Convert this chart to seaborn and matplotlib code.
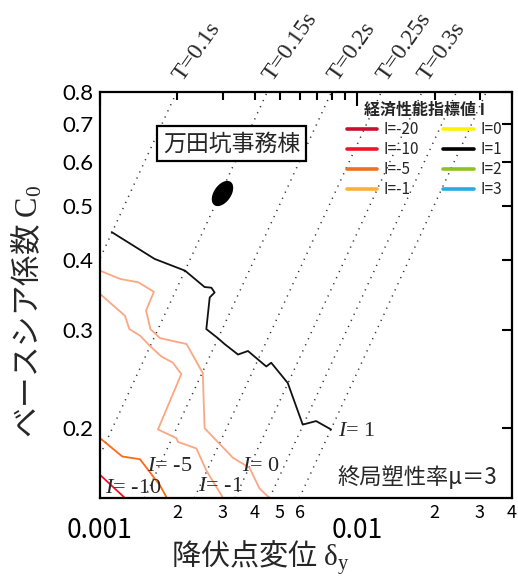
import numpy as np
import pandas as pd
import matplotlib
matplotlib.use("Agg")
import matplotlib.pyplot as plt
import seaborn as sns
from matplotlib.lines import Line2D
from matplotlib.path import Path

# --- iso-lines of the economic performance index I (yield displacement [m], base shear coeff.) ---
i1_dy = [0.00111, 0.00163, 0.00214, 0.00255, 0.00271, 0.00279, 0.00267, 0.00259, 0.00287,
         0.00305, 0.00344, 0.00376, 0.00443, 0.00463, 0.00537, 0.00614, 0.00692, 0.00791]
i1_c0 = [0.449, 0.402, 0.383, 0.358, 0.357, 0.350, 0.343, 0.301, 0.290,
         0.283, 0.271, 0.275, 0.258, 0.262, 0.241, 0.203, 0.206, 0.199]

i0_dy = [0.00100, 0.00120, 0.00141, 0.00162, 0.00151, 0.00157, 0.00171, 0.00217, 0.00251,
         0.00255, 0.00329, 0.00381, 0.00417, 0.00456]
i0_c0 = [0.383, 0.370, 0.365, 0.351, 0.325, 0.301, 0.290, 0.283, 0.251,
         0.200, 0.177, 0.170, 0.156, 0.150]

im1_dy = [0.00100, 0.00125, 0.00130, 0.00143, 0.00156, 0.00173, 0.00192, 0.00207, 0.00168,
          0.00198, 0.00201, 0.00237, 0.00259, 0.00301]
im1_c0 = [0.348, 0.318, 0.301, 0.293, 0.281, 0.269, 0.262, 0.250, 0.199,
          0.192, 0.189, 0.184, 0.168, 0.150]

im5_dy = [0.00100, 0.00122, 0.00143, 0.00156, 0.00171, 0.00182]
im5_c0 = [0.192, 0.178, 0.176, 0.167, 0.158, 0.150]

im10_dy = [0.00100, 0.00125]
im10_c0 = [0.165, 0.150]

# building point: 万田坑事務棟
bldg_dy = [0.00298]
bldg_c0 = [0.528]

# equal-period guide lines  δy = C0·g·(T/2π)²
g = 9.8
periods = [0.1, 0.15, 0.2, 0.25, 0.3, 0.35, 0.4]
period_labels = ["T=0.1s", "T=0.15s", "T=0.2s", "T=0.25s", "T=0.3s", "", ""]
c0_span = [0.15, 0.8]

# legend entries
legend_levels = ["I=-20", "I=-10", "I=-5", "I=-1", "I=0", "I=1", "I=2", "I=3"]
legend_colors = ["#c8102e", "#f0142a", "#ee7020", "#fbb03b", "#fff200", "#000000", "#8dc21f", "#29abe2"]

# axis ticks
x_major = [0.001, 0.01]
x_major_labels = ["0.001", "0.01"]
x_minor = [0.002, 0.003, 0.004, 0.005, 0.006, 0.007, 0.008, 0.009, 0.02, 0.03, 0.04]
x_minor_labels = ["2", "3", "4", "5", "6", "", "", "", "2", "3", "4"]
y_ticks = [0.2, 0.3, 0.4, 0.5, 0.6, 0.7, 0.8]
y_tick_labels = ["0.2", "0.3", "0.4", "0.5", "0.6", "0.7", "0.8"]

sns.set_theme(style="white", rc={
    "axes.edgecolor": "black",
    "axes.linewidth": 1.6,
    "xtick.color": "black",
    "ytick.color": "black",
})
plt.rcParams["font.family"] = ["Noto Sans CJK JP", "DejaVu Sans"]
plt.rcParams["mathtext.fontset"] = "custom"
plt.rcParams["mathtext.rm"] = "Liberation Serif"
plt.rcParams["mathtext.it"] = "Liberation Serif:italic"
plt.rcParams["mathtext.bf"] = "Liberation Serif:bold"

fig = plt.figure(figsize=(5.18, 5.79), dpi=100)
ax = fig.add_axes([0.1931, 0.1399, 0.7954, 0.7012])
ax.set_xscale("log")
ax.set_yscale("log")

# period guide lines
for T, lab in zip(periods, period_labels):
    k = g * T ** 2 / (4 * np.pi ** 2)
    dy = [c * k for c in c0_span]
    sns.lineplot(x=dy, y=c0_span, ax=ax, sort=False, estimator=None, color="#333333",
                 linewidth=1.1, linestyle=(0, (0.8, 3.6)), legend=False)
    if lab:
        ax.annotate(lab, xy=(dy[1], c0_span[1]), xytext=(7, 5), textcoords="offset points",
                    rotation=55, rotation_mode="anchor", ha="left", va="bottom",
                    fontsize=17, family="Liberation Serif", annotation_clip=False)

# iso-lines
contours = [
    (im10_dy, im10_c0, "#f01428"),
    (im5_dy, im5_c0, "#ff6a14"),
    (im1_dy, im1_c0, "#fca682"),
    (i0_dy, i0_c0, "#fca682"),
    (i1_dy, i1_c0, "#111111"),
]
for xs, ys, col in contours:
    sns.lineplot(x=xs, y=ys, ax=ax, sort=False, estimator=None, color=col,
                 linewidth=1.3, legend=False)

# building marker (tilted ellipse)
th = np.linspace(0, 2 * np.pi, 60)
ex, ey = 0.6 * np.cos(th), np.sin(th)
phi = np.deg2rad(-35)
verts = np.column_stack([ex * np.cos(phi) - ey * np.sin(phi), ex * np.sin(phi) + ey * np.cos(phi)])
ell = Path(verts, closed=True)
sns.scatterplot(x=bldg_dy, y=bldg_c0, ax=ax, marker=ell, s=330, color="black",
                edgecolor="black", linewidth=0, legend=False, zorder=5)

ax.text(0.00325, 0.646, "万田坑事務棟", ha="center", va="center", fontsize=16.5,
        bbox=dict(boxstyle="square,pad=0.26", fc="white", ec="black", lw=1.6), zorder=6)

# iso-line labels
iso_labels = [
    (0.0084, 0.197, r"$I$= 1"),
    (0.00358, 0.171, r"$I$= 0"),
    (0.00240, 0.1571, r"$I$= -1"),
    (0.00152, 0.171, r"$I$= -5"),
    (0.001046, 0.1559, r"$I$= -10"),
]
for x, y, t in iso_labels:
    ax.text(x, y, t, ha="left", va="center", fontsize=16, family="Liberation Serif")

ax.text(0.9636, 0.052, "終局塑性率μ＝3", transform=ax.transAxes, ha="right", va="center",
        fontsize=16)

ax.set_xlim(0.001, 0.04)
ax.set_ylim(0.15, 0.8)

# ticks
ax.set_xticks(x_major, labels=x_major_labels)
ax.set_xticks(x_minor, labels=x_minor_labels, minor=True)
ax.set_yticks(y_ticks, labels=y_tick_labels)
ax.yaxis.set_minor_locator(matplotlib.ticker.NullLocator())
ax.tick_params(axis="both", which="both", direction="in", top=True, right=True, width=1.5)
ax.tick_params(axis="x", which="major", length=10, pad=14, labelsize=19)
ax.tick_params(axis="x", which="minor", length=6, pad=4, labelsize=13)
ax.tick_params(axis="y", which="major", length=7, pad=5, labelsize=16)
for t in ax.get_yticklabels():
    t.set_fontfamily("Lato")

ax.set_xlabel(r"降伏点変位 $\mathrm{\delta}_{\mathrm{y}}$", fontsize=21)
ax.xaxis.set_label_coords(0.39, -0.1)
ax.set_ylabel(r"ベースシア係数 $\mathrm{C}_{0}$", fontsize=22)
ax.yaxis.set_label_coords(-0.135, 0.46)

handles = [Line2D([0], [0], color=c, lw=2.6) for c in legend_colors]
leg = ax.legend(handles, legend_levels, ncol=2, title="経済性能指標値 I", frameon=False,
                loc="upper right", bbox_to_anchor=(0.975, 0.975), borderaxespad=0, borderpad=0,
                fontsize=11, title_fontproperties={"weight": "bold", "size": 11.5},
                handlelength=2.0, handletextpad=0.4, columnspacing=1.6, labelspacing=0.2)

fig.savefig("out.png", dpi=100)
